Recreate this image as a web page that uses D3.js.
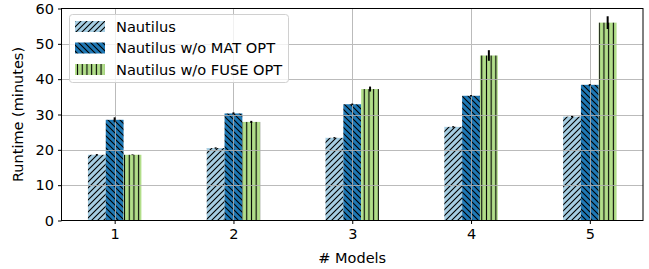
<!DOCTYPE html>
<html>
<head>
<meta charset="utf-8">
<script src="https://cdn.jsdelivr.net/npm/d3@7"></script>
<style>
  body { margin: 0; background: #fff; }
  svg { font-family: "DejaVu Sans", sans-serif; }
</style>
</head>
<body>
<div id="main-chart"></div>
<script>
var models = [1, 2, 3, 4, 5];
var seriesNames = ["Nautilus", "Nautilus w/o MAT OPT", "Nautilus w/o FUSE OPT"];
var nautilus = [18.6, 20.5, 23.4, 26.5, 29.4];
var noMatOpt = [28.5, 30.3, 32.9, 35.3, 38.4];
var noFuseOpt = [18.6, 27.9, 37.2, 46.7, 56.0];
var nautilusErr = [0.2, 0.2, 0.2, 0.2, 0.2];
var noMatOptErr = [0.7, 0.3, 0.2, 0.2, 0.2];
var noFuseOptErr = [0.1, 0.3, 0.7, 1.5, 1.8];
var yTicks = [0, 10, 20, 30, 40, 50, 60];

var colors = ["#a6cee3", "#1f78b4", "#b2df8a"];
var hatches = ["diagRight", "diagLeft", "vert"];
var barWidth = 0.15;

var W = 649, H = 269;
var margin = { left: 61.5, right: 6, top: 8.5, bottom: 48.5 };

var svg = d3.select("#main-chart").append("svg")
  .attr("width", W).attr("height", H);

var defs = svg.append("defs");
hatches.forEach(function(h, i) {
  var size = h === "vert" ? 4.7 : 6;
  var p = defs.append("pattern")
    .attr("id", "hatch" + i)
    .attr("patternUnits", "userSpaceOnUse")
    .attr("width", size).attr("height", size);
  p.append("rect").attr("width", size).attr("height", size).attr("fill", colors[i]);
  var line = p.append("path").attr("stroke", "#000").attr("stroke-width", 1.1).attr("fill", "none");
  if (h === "vert") {
    line.attr("d", "M" + size / 2 + ",0V" + size);
  } else if (h === "diagRight") {
    line.attr("d", "M0," + size + "L" + size + ",0M-1,1L1,-1M" + (size - 1) + "," + (size + 1) + "L" + (size + 1) + "," + (size - 1));
  } else {
    line.attr("d", "M0,0L" + size + "," + size + "M-1," + (size - 1) + "L1," + (size + 1) + "M" + (size - 1) + ",-1L" + (size + 1) + ",1");
  }
});

var x = d3.scaleLinear()
  .domain([0.5525, 5.4475])
  .range([margin.left, W - margin.right]);
var y = d3.scaleLinear()
  .domain([0, 60])
  .range([H - margin.bottom, margin.top]);

var series = [
  { name: seriesNames[0], values: nautilus, errs: nautilusErr },
  { name: seriesNames[1], values: noMatOpt, errs: noMatOptErr },
  { name: seriesNames[2], values: noFuseOpt, errs: noFuseOptErr }
];

// bars
var bars = svg.append("g").attr("class", "bars");
series.forEach(function(s, i) {
  var off = (i - 1) * barWidth;
  bars.selectAll("rect.s" + i)
    .data(s.values)
    .enter()
    .append("rect")
    .attr("class", "s" + i)
    .attr("x", function(d, j) { return x(models[j] + off - barWidth / 2); })
    .attr("width", x(barWidth) - x(0))
    .attr("y", function(d) { return y(d); })
    .attr("height", function(d) { return y(0) - y(d); })
    .attr("fill", "url(#hatch" + i + ")");
});

// grid on top
var grid = svg.append("g").attr("class", "grid")
  .attr("stroke", "#b0b0b0").attr("stroke-width", 1).attr("opacity", 0.85);
grid.selectAll("line.h").data(yTicks.slice(1, -1)).enter().append("line")
  .attr("x1", x.range()[0]).attr("x2", x.range()[1])
  .attr("y1", function(d) { return Math.round(y(d)) + 0.5; })
  .attr("y2", function(d) { return Math.round(y(d)) + 0.5; });
grid.selectAll("line.v").data(models).enter().append("line")
  .attr("y1", y.range()[0]).attr("y2", y.range()[1])
  .attr("x1", function(d) { return Math.round(x(d)) + 0.5; })
  .attr("x2", function(d) { return Math.round(x(d)) + 0.5; });

// error bars
var errs = svg.append("g").attr("class", "errs");
series.forEach(function(s, i) {
  var off = (i - 1) * barWidth;
  errs.selectAll("line.e" + i)
    .data(s.values)
    .enter()
    .append("line")
    .attr("x1", function(d, j) { return x(models[j] + off); })
    .attr("x2", function(d, j) { return x(models[j] + off); })
    .attr("y1", function(d, j) { return y(d - s.errs[j]); })
    .attr("y2", function(d, j) { return y(d + s.errs[j]); })
    .attr("stroke", "#000").attr("stroke-width", 2);
});

// frame
svg.append("rect")
  .attr("x", x.range()[0]).attr("y", y.range()[1])
  .attr("width", x.range()[1] - x.range()[0])
  .attr("height", y.range()[0] - y.range()[1])
  .attr("fill", "none").attr("stroke", "#000").attr("stroke-width", 1);

// axes
var xAxis = svg.append("g")
  .attr("transform", "translate(0," + y.range()[0] + ")")
  .call(d3.axisBottom(x).tickValues(models).tickFormat(d3.format("d")).tickSize(3.5).tickPadding(5));
var yAxis = svg.append("g")
  .attr("transform", "translate(" + x.range()[0] + ",0)")
  .call(d3.axisLeft(y).tickValues(yTicks).tickSize(3.5).tickPadding(4));
[xAxis, yAxis].forEach(function(a) {
  a.select(".domain").remove();
  a.selectAll("text").attr("font-size", 14.5).attr("fill", "#000")
    .attr("font-family", "DejaVu Sans");
  a.selectAll("line").attr("stroke", "#000");
});

svg.append("text")
  .attr("x", (x.range()[0] + x.range()[1]) / 2)
  .attr("y", 263)
  .attr("text-anchor", "middle")
  .attr("font-size", 14.5)
  .text("# Models");
svg.append("text")
  .attr("transform", "translate(23," + (y.range()[0] + y.range()[1]) / 2 + ") rotate(-90)")
  .attr("text-anchor", "middle")
  .attr("font-size", 14.5)
  .text("Runtime (minutes)");

// legend
var legend = svg.append("g").attr("class", "legend");
legend.append("rect")
  .attr("x", 69.5).attr("y", 14.5).attr("width", 219).attr("height", 68)
  .attr("rx", 3)
  .attr("fill", "#fff").attr("fill-opacity", 0.8)
  .attr("stroke", "#d0d0d0");
series.forEach(function(s, i) {
  var cy = 26.5 + i * 21.5;
  legend.append("rect")
    .attr("x", 75).attr("y", cy - 5.5).attr("width", 30).attr("height", 11)
    .attr("fill", "url(#hatch" + i + ")");
  legend.append("text")
    .attr("x", 116).attr("y", cy)
    .attr("dy", "0.35em")
    .attr("font-size", 14.6)
    .text(s.name);
});
</script>
</body>
</html>
